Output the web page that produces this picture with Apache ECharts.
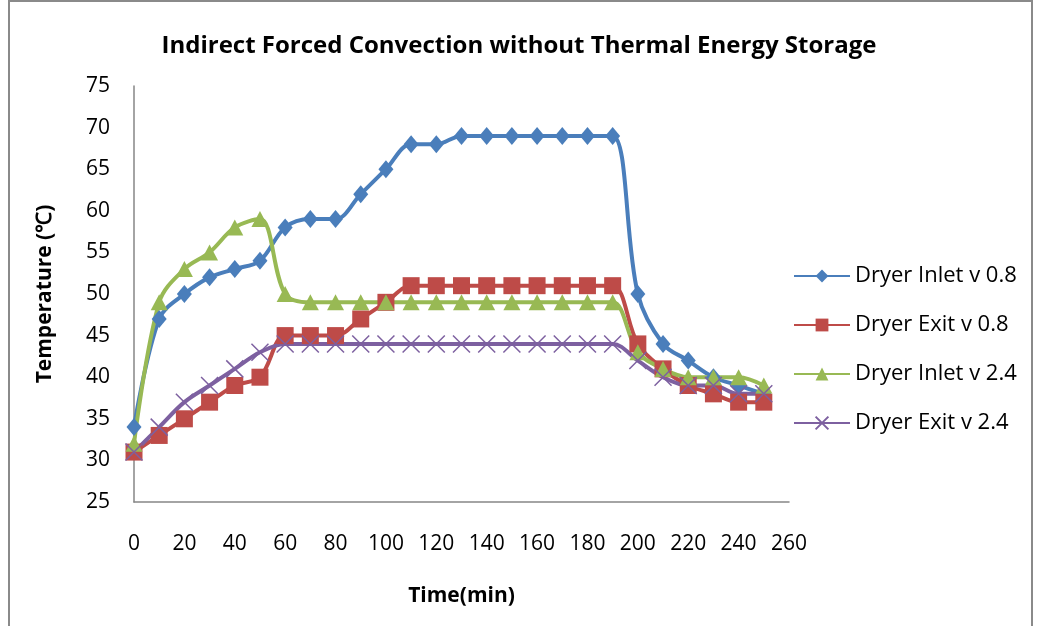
<!DOCTYPE html>
<html>
<head>
<meta charset="utf-8">
<script src="https://cdn.jsdelivr.net/npm/echarts@6/dist/echarts.min.js"></script>
<style>
  html, body { margin: 0; padding: 0; background: #fff; }
  #chart { width: 1038px; height: 626px; }
</style>
</head>
<body>
<div id="chart"></div>
<script>
// time in minutes
const times = [0, 10, 20, 30, 40, 50, 60, 70, 80, 90, 100, 110, 120, 130, 140, 150, 160, 170, 180, 190, 200, 210, 220, 230, 240, 250]

const inlet08 = [34, 47, 50, 52, 53, 54, 58, 59, 59, 62, 65, 68, 68, 69, 69, 69, 69, 69, 69, 69, 50, 44, 42, 40, 39, 38]
const exit08 = [31, 33, 35, 37, 39, 40, 45, 45, 45, 47, 49, 51, 51, 51, 51, 51, 51, 51, 51, 51, 44, 41, 39, 38, 37, 37]
const inlet24 = [32, 49, 53, 55, 58, 59, 50, 49, 49, 49, 49, 49, 49, 49, 49, 49, 49, 49, 49, 49, 43, 41, 40, 40, 40, 39]
const exit24 = [31, 34, 37, 39, 41, 43, 44, 44, 44, 44, 44, 44, 44, 44, 44, 44, 44, 44, 44, 44, 42, 40, 39, 39, 38, 38]

const seriesNames = ['Dryer Inlet v 0.8', 'Dryer Exit v 0.8', 'Dryer Inlet v 2.4', 'Dryer Exit v 2.4']

function pairs(vals) {
  return times.map((t, i) => [t, vals[i]])
}

const font = 'Open Sans'
const crossPath = 'path://M0,0 L10,10 M10,0 L0,10'

let chart = echarts.init(document.getElementById('chart'))
chart.setOption({
  animation: false,
  textStyle: { fontFamily: font },
  title: {
    text: 'Indirect Forced Convection without Thermal Energy Storage',
    left: 'center',
    top: 29,
    textStyle: { fontFamily: font, fontSize: 24, fontWeight: 'bold', color: '#000' }
  },
  graphic: [{
    type: 'rect',
    shape: { x: 9, y: 1, width: 1023, height: 700 },
    style: { fill: 'none', stroke: '#8a8a8a', lineWidth: 2 },
    silent: true
  }],
  grid: { left: 134, top: 86, right: 249, bottom: 124 },
  legend: {
    orient: 'vertical',
    left: 788,
    top: 260,
    itemWidth: 56,
    itemHeight: 16,
    itemGap: 27,
    textStyle: { fontFamily: font, fontSize: 22, color: '#000' },
    data: seriesNames
  },
  xAxis: {
    type: 'value',
    min: 0,
    max: 260,
    interval: 20,
    name: 'Time(min)',
    nameLocation: 'middle',
    nameGap: 84,
    nameTextStyle: { fontFamily: font, fontSize: 21, fontWeight: 'bold', color: '#000' },
    axisLine: { show: true, lineStyle: { color: '#868686', width: 1.5 } },
    axisTick: { show: false },
    splitLine: { show: false },
    axisLabel: { fontFamily: font, fontSize: 21, color: '#000', margin: 32 }
  },
  yAxis: {
    type: 'value',
    min: 25,
    max: 75,
    interval: 5,
    name: 'Temperature (℃)',
    nameLocation: 'middle',
    nameGap: 78,
    nameTextStyle: { fontFamily: font, fontSize: 21, fontWeight: 'bold', color: '#000' },
    axisLine: { show: true, lineStyle: { color: '#868686', width: 1.5 } },
    axisTick: { show: false },
    splitLine: { show: false },
    axisLabel: { fontFamily: font, fontSize: 21, color: '#000', margin: 24 }
  },
  series: [
    {
      name: seriesNames[0], type: 'line', smooth: 0.35,
      data: pairs(inlet08),
      symbol: 'diamond', symbolSize: [15, 18],
      lineStyle: { color: '#4A7EBB', width: 4 },
      itemStyle: { color: '#4A7EBB' }
    },
    {
      name: seriesNames[1], type: 'line', smooth: 0.35,
      data: pairs(exit08),
      symbol: 'rect', symbolSize: 17,
      lineStyle: { color: '#BE4B48', width: 4 },
      itemStyle: { color: '#BE4B48' }
    },
    {
      name: seriesNames[2], type: 'line', smooth: 0.35,
      data: pairs(inlet24),
      symbol: 'triangle', symbolSize: [17, 16],
      lineStyle: { color: '#98B954', width: 4 },
      itemStyle: { color: '#98B954' }
    },
    {
      name: seriesNames[3], type: 'line', smooth: 0.35,
      data: pairs(exit24),
      symbol: crossPath, symbolSize: 17,
      lineStyle: { color: '#7D60A0', width: 4 },
      itemStyle: { color: '#7D60A0', borderColor: '#7D60A0', borderWidth: 1.5 }
    }
  ]
})
</script>
</body>
</html>
